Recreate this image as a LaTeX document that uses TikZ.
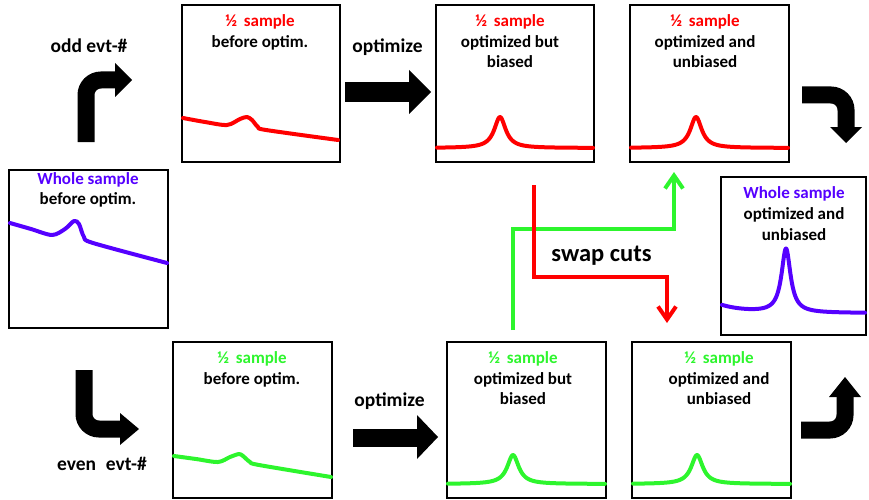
\documentclass[tikz,border=0pt]{standalone}
\usepackage{fontspec}
\setmainfont{Carlito}
\usetikzlibrary{arrows.meta}
\definecolor{cutred}{RGB}{255,0,0}
\definecolor{cutgreen}{RGB}{45,245,45}
\definecolor{wholeblue}{RGB}{85,0,255}

\begin{document}
\begin{tikzpicture}[x=1pt,y=-1pt,
  panel/.style={draw=black, line width=2.5pt, inner sep=0pt,
                minimum width=158pt, minimum height=157pt},
  txt/.style={anchor=base, inner sep=0pt, font=\fontsize{17}{20}\selectfont\bfseries},
  lbl/.style={anchor=base, inner sep=0pt, font=\fontsize{19.5}{23}\selectfont\bfseries},
  spectrum/.style={line width=4pt, line join=round, line cap=round},
  bent/.style={line width=17pt, rounded corners=15pt},
  swapline/.style={line width=4pt, -{Straight Barb[length=13pt,width=18pt]}},
]
\useasboundingbox (0,0) rectangle (869,500);

% ---------- panels ----------
\node[panel] (r1) at (261,83.5) {};
\node[panel] (r2) at (515,83.5) {};
\node[panel, minimum width=159pt] (r3) at (709.5,83.5) {};
\node[panel, minimum width=159pt, minimum height=158pt] (wl) at (88.5,249) {};
\node[panel, minimum width=145pt, minimum height=158pt] (wr) at (793.5,256) {};
\node[panel, minimum width=159pt, minimum height=156pt] (g1) at (252.5,420) {};
\node[panel, minimum width=159pt, minimum height=156pt] (g2) at (526.5,420) {};
\node[panel, minimum width=159pt, minimum height=156pt] (g3) at (711.5,420) {};

% ---------- panel texts ----------
\node[txt, cutred] (r1a) at (260,27) {½\hspace{0.4em}sample};
\node[txt] (r1b) at (260,48) {before optim.};

\node[txt, cutred] (r2a) at (510,27) {½\hspace{0.4em}sample};
\node[txt] (r2b) at (510,48) {optimized but};
\node[txt] (r2c) at (510,68) {biased};

\node[txt, cutred] (r3a) at (705,27) {½\hspace{0.4em}sample};
\node[txt] (r3b) at (705,48) {optimized and};
\node[txt] (r3c) at (705,68) {unbiased};

\node[txt, wholeblue] (wla) at (88,184) {Whole sample};
\node[txt] (wlb) at (88,204) {before optim.};

\node[txt, wholeblue] (wra) at (794,198) {Whole sample};
\node[txt] (wrb) at (794,219) {optimized and};
\node[txt] (wrc) at (794,240) {unbiased};

\node[txt, cutgreen] (g1a) at (252,363) {½\hspace{0.4em}sample};
\node[txt] (g1b) at (252,384) {before optim.};

\node[txt, cutgreen] (g2a) at (523,363) {½\hspace{0.4em}sample};
\node[txt] (g2b) at (523,384) {optimized but};
\node[txt] (g2c) at (523,404) {biased};

\node[txt, cutgreen] (g3a) at (719,363) {½\hspace{0.4em}sample};
\node[txt] (g3b) at (719,384) {optimized and};
\node[txt] (g3c) at (719,404) {unbiased};

% ---------- spectra ----------
% before optimisation: falling background with a small bump
\draw[spectrum, cutred] plot[smooth, tension=0.5] coordinates
  {(183,118) (205,122) (227,125) (240,119) (247,117) (252,120) (258,127) (266,130) (338,140)};
\draw[spectrum, wholeblue] plot[smooth, tension=0.5] coordinates
  {(10,223) (31,229) (52,235) (65,229) (74,221) (79,224) (84,237) (93,243) (167,263)};
\draw[spectrum, cutgreen] plot[smooth, tension=0.5] coordinates
  {(174,456) (196,459) (218,462) (230,457) (239,454) (243,456) (250,462) (259,465) (331,477)};

% after optimisation: flat background with a sharp peak
\draw[spectrum, cutred] plot[domain=437:593, samples=200] (\x,{148-31*49/((\x-500)^2+49)});
\draw[spectrum, cutred] plot[domain=631:788, samples=200] (\x,{148-31*49/((\x-696)^2+49)});
\draw[spectrum, cutgreen] plot[domain=448:605, samples=200] (\x,{484-29*49/((\x-513)^2+49)});
\draw[spectrum, cutgreen] plot[domain=633:790, samples=200] (\x,{484-29*49/((\x-697)^2+49)});
\draw[spectrum, wholeblue] plot[domain=722:865, samples=220]
  (\x,{313-8*exp(-(\x-721)/25)-64*30/((\x-786)^2+30)});

% ---------- labels ----------
\node[lbl] (odd) at (89,53) {odd evt-\#};
\node[lbl] (even) at (102,470) {even\hspace{0.5em}evt-\#};
\node[lbl] (opt1) at (387.5,53) {optimize};
\node[lbl] (opt2) at (389.5,406) {optimize};
\node[anchor=base, inner sep=0pt, font=\fontsize{24.5}{28}\selectfont\bfseries] (swap) at (601.5,261) {swap cuts};

% ---------- bent split / merge arrows ----------
\coordinate (oddS) at (86,142);  \coordinate (oddE) at (116,80);
\draw[bent] (oddS) |- (oddE);
\fill (115,63) -- (132,80) -- (115,97) -- cycle;

\coordinate (evenS) at (84,370); \coordinate (evenE) at (121,429);
\draw[bent] (evenS) |- (evenE);
\fill (120,413) -- (139,429) -- (120,445) -- cycle;

\coordinate (topS) at (802,95);  \coordinate (topE) at (846,128);
\draw[bent] (topS) -| (topE);
\fill (830,127) -- (846,143) -- (862,127) -- cycle;

\coordinate (botS) at (801,430); \coordinate (botE) at (845,396);
\draw[bent] (botS) -| (botE);
\fill (829,397) -- (845,377) -- (861,397) -- cycle;

% ---------- optimize block arrows ----------
\coordinate (o1S) at (345,92); \coordinate (o1E) at (410,92);
\draw[line width=20pt] (o1S) -- (o1E);
\fill (409,70) -- (431,92) -- (409,114) -- cycle;

\coordinate (o2S) at (353,438); \coordinate (o2E) at (418,438);
\draw[line width=18pt] (o2S) -- (o2E);
\fill (417,415) -- (438,437) -- (417,459) -- cycle;

% ---------- swap cuts ----------
\coordinate (gS) at (513,330); \coordinate (gE) at (674,172);
\coordinate (rS) at (534,185); \coordinate (rE) at (667,323);
\draw[swapline, cutgreen] (gS) |- (674,229) -- (gE);
\draw[swapline, cutred] (rS) |- (667,277) -- (rE);
\end{tikzpicture}
\end{document}
